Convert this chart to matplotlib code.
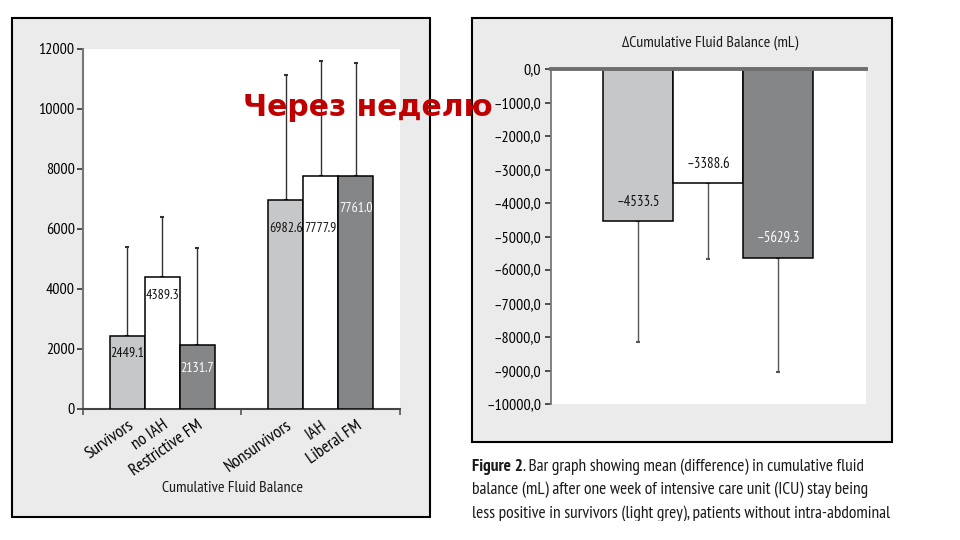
import matplotlib.pyplot as plt
from matplotlib import font_manager
from matplotlib.patches import Rectangle
from matplotlib.ticker import FuncFormatter

# Step 1
LEFT_LABELS = ["Survivors", "no IAH", "Restrictive FM", "Nonsurvivors", "IAH", "Liberal FM"]
LEFT_VALUES = [2449.1, 4389.3, 2131.7, 6982.6, 7777.9, 7761.0]
LEFT_ERR_UP = [2950, 2010, 3230, 4150, 3820, 3770]
LEFT_GROUP = [0, 0, 0, 1, 1, 1]
LEFT_SLOT = [-1, 0, 1, -1, 0, 1]

RIGHT_VALUES = [-4533.5, -3388.6, -5629.3]
RIGHT_ERR_DOWN = [3620, 2280, 3420]

# Step 2 - style
LIGHT = "#c6c7c9"
WHITE = "#ffffff"
DARK = "#858688"
BAR_COLORS = [LIGHT, WHITE, DARK]
TEXT_COLORS = ["#111111", "#111111", "#ffffff"]
PANEL_GRAY = "#ebebeb"

# narrow font like the journal's condensed type, first one that is installed
installed = {f.name for f in font_manager.fontManager.ttflist}
NARROW = next((n for n in ["PT Sans Narrow", "Roboto Condensed", "Fira Sans Condensed",
                           "Liberation Sans Narrow", "Open Sans Condensed", "Archivo Narrow"]
               if n in installed), "DejaVu Sans")
plt.rcParams["font.family"] = [NARROW, "DejaVu Sans"]
plt.rcParams["text.color"] = "#1a1a1a"

W, H = 960, 540
fig = plt.figure(figsize=(W / 100, H / 100), dpi=100)


def px_rect(x0, y0, x1, y1):
    """pixel box (top-left origin) -> figure fraction [l, b, w, h]"""
    return [x0 / W, (H - y1) / H, (x1 - x0) / W, (y1 - y0) / H]


# gray panels with black frame
for x0, y0, x1, y1 in [(12, 18, 430, 517), (472, 18, 892, 442)]:
    l, b, w, h = px_rect(x0, y0, x1, y1)
    fig.patches.append(Rectangle((l, b), w, h, transform=fig.transFigure,
                                 facecolor=PANEL_GRAY, edgecolor="black", lw=1.5, zorder=-5))

# Step 3 - left chart
ax1 = fig.add_axes(px_rect(83, 49, 400, 409))
ax1.set_facecolor("white")
width = 0.22
xs = [g + 0.5 + s * width for g, s in zip(LEFT_GROUP, LEFT_SLOT)]
colors = [BAR_COLORS[s + 1] for s in LEFT_SLOT]
ax1.bar(xs, LEFT_VALUES, width=width, color=colors, edgecolor="black", lw=1.1, zorder=3)
ax1.errorbar(xs, LEFT_VALUES, yerr=[[0] * len(xs), LEFT_ERR_UP], fmt="none",
             ecolor="#333333", elinewidth=1, capsize=1.5, capthick=1.5, zorder=2)
label_drop = [18, 18, 23, 29, 53, 32]
for x, v, s, d in zip(xs, LEFT_VALUES, LEFT_SLOT, label_drop):
    ax1.annotate(f"{v:.1f}", (x, v), xytext=(0, -d), textcoords="offset pixels",
                 ha="center", va="center", fontsize=10, color=TEXT_COLORS[s + 1], zorder=4)
ax1.set_xlim(0, 2)
ax1.set_ylim(0, 12000)
ax1.set_yticks(range(0, 12001, 2000))
ax1.tick_params(axis="y", length=4, width=1.2, color="#333333", pad=2, labelsize=11.5)
ax1.set_xticks([0, 1, 2])
ax1.set_xticks(xs, minor=True)
ax1.set_xticklabels(LEFT_LABELS, minor=True, rotation=35, ha="right",
                    rotation_mode="anchor", fontsize=12.5)
ax1.set_xticklabels([])
ax1.tick_params(axis="x", which="major", length=4, width=1.2, color="#555555")
ax1.tick_params(axis="x", which="minor", length=0, pad=6)
for side in ["top", "right"]:
    ax1.spines[side].set_visible(False)
ax1.spines["left"].set_color("#777777")
ax1.spines["left"].set_linewidth(1.5)
ax1.spines["bottom"].set_color("#444444")
ax1.spines["bottom"].set_linewidth(1.5)
fig.text(233 / W, 1 - 488 / H, "Cumulative Fluid Balance", ha="center", va="center", fontsize=11.5)

# Step 4 - right chart
ax2 = fig.add_axes(px_rect(551, 69, 866, 404))
ax2.set_facecolor("white")
rx = [-1, 0, 1]
ax2.bar(rx, RIGHT_VALUES, width=1, color=BAR_COLORS, edgecolor="black", lw=1.1, zorder=3)
ax2.errorbar(rx, RIGHT_VALUES, yerr=[RIGHT_ERR_DOWN, [0, 0, 0]], fmt="none",
             ecolor="#555555", elinewidth=1, capsize=1.5, capthick=1.5, zorder=2)
for x, v, c in zip(rx, RIGHT_VALUES, TEXT_COLORS):
    ax2.annotate(f"\u2013{abs(v):.1f}", (x, v), xytext=(0, 19), textcoords="offset pixels",
                 ha="center", va="center", fontsize=10.5, color=c, zorder=4)
ax2.set_xlim(-2.243, 2.257)
ax2.set_ylim(-10000, 0)
ax2.set_yticks(range(-10000, 1, 1000))
ax2.yaxis.set_major_formatter(FuncFormatter(
    lambda v, p: "0,0" if v == 0 else f"\u2013{abs(v):.0f},0"))
ax2.tick_params(axis="y", length=4, width=1.2, color="#333333", pad=3, labelsize=11.5)
ax2.set_xticks([])
for side in ["bottom", "right"]:
    ax2.spines[side].set_visible(False)
ax2.spines["left"].set_color("#777777")
ax2.spines["left"].set_linewidth(1.3)
ax2.spines["top"].set_color("#6e6e6e")
ax2.spines["top"].set_linewidth(2.8)
ax2.spines["top"].set_zorder(5)
fig.text(710 / W, 1 - 43 / H, "\u0394Cumulative Fluid Balance (mL)", ha="center",
         va="center", fontsize=11.5)

# Step 5 - red overlay heading
fig.text(368 / W, 1 - 108 / H, "Через неделю", ha="center", va="center",
         fontsize=21.5, fontweight="bold", color="#c00000", family="DejaVu Sans", zorder=10)

# Step 6 - caption under the right chart
renderer = fig.canvas.get_renderer()
cap_lines = [
    "Bar graph showing mean (difference) in cumulative fluid",
    "balance (mL) after one week of intensive care unit (ICU) stay being",
    "less positive in survivors (light grey), patients without intra-abdominal",
]
cap_y = [467, 490, 514]
bold = fig.text(472 / W, 1 - cap_y[0] / H, "Figure 2", fontsize=12.5, fontweight="bold",
                va="center", ha="left")
bb = bold.get_window_extent(renderer)
fig.text(bb.x1 / W, 1 - cap_y[0] / H, ". " + cap_lines[0], fontsize=12.5, va="center", ha="left")
for line, y in zip(cap_lines[1:], cap_y[1:]):
    fig.text(472 / W, 1 - y / H, line, fontsize=12.5, va="center", ha="left")

# bottom strip of the slide hides the last caption line partly
fig.patches.append(Rectangle((0, 0), 1, (H - 521) / H, transform=fig.transFigure,
                             facecolor="white", edgecolor="none", zorder=20))

fig.savefig("out.png", dpi=100)
